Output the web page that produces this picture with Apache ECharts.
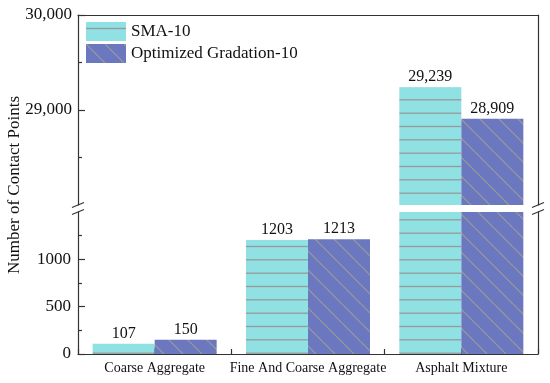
<!DOCTYPE html>
<html>
<head>
<meta charset="utf-8">
<script src="https://cdn.jsdelivr.net/npm/echarts@6/dist/echarts.min.js"></script>
<style>html,body{margin:0;padding:0;background:#fff}#c{width:550px;height:383px}</style>
</head>
<body>
<div id="c"></div>
<script>
var categories = ['Coarse Aggregate', 'Fine And Coarse Aggregate', 'Asphalt Mixture'];
var smaValues = [107, 1203, 29239];
var optValues = [150, 1213, 28909];
var seriesNames = ['SMA-10', 'Optimized Gradation-10'];
var upperTicks = [29000, 30000];
var lowerTicks = [0, 500, 1000];

var UPPER_MIN = 28000, UPPER_MAX = 30000;
var LOWER_MIN = 0, LOWER_MAX = 1500;

var LEFT = 78, RIGHT = 12, TOP = 15, UPPER_H = 190, GAP = 7, LOWER_H = 142;
var FONT = 'Liberation Serif';
var AXIS_COLOR = '#333';

function hPattern(bg, line) {
  var c = document.createElement('canvas');
  c.width = 20; c.height = 40;
  var g = c.getContext('2d');
  g.fillStyle = bg; g.fillRect(0, 0, 20, 40);
  g.strokeStyle = line; g.lineWidth = 1.3;
  [6.5, 19.8, 33.2].forEach(function (y) {
    g.beginPath(); g.moveTo(0, y); g.lineTo(20, y); g.stroke();
  });
  return { image: c, repeat: 'repeat' };
}
function dPattern(bg, line) {
  var s = 19;
  var c = document.createElement('canvas');
  c.width = s; c.height = s;
  var g = c.getContext('2d');
  g.fillStyle = bg; g.fillRect(0, 0, s, s);
  g.strokeStyle = line; g.lineWidth = 1.2;
  [-s, 0, s].forEach(function (k) {
    g.beginPath(); g.moveTo(k, 0); g.lineTo(k + s, s); g.stroke();
  });
  return { image: c, repeat: 'repeat' };
}
var smaFill = hPattern('#8FE1E3', '#999999');
var optFill = dPattern('#6B78BF', '#9a9a9a');

function fmt(v) { return Number(v).toLocaleString('en-US'); }

var labelBase = { show: true, position: 'top', distance: 2, color: '#111', fontFamily: FONT, fontSize: 16 };

function makeSeries(name, values, fill) {
  return [
    {
      name: name, type: 'bar', xAxisIndex: 0, yAxisIndex: 0, data: values,
      barWidth: 62, barGap: '0%', itemStyle: { color: fill },
      label: Object.assign({}, labelBase, {
        formatter: function (p) { return p.value > UPPER_MIN && p.value <= UPPER_MAX ? fmt(p.value) : ''; }
      })
    },
    {
      name: name, type: 'bar', xAxisIndex: 1, yAxisIndex: 2, data: values,
      barWidth: 62, barGap: '0%', itemStyle: { color: fill },
      label: Object.assign({}, labelBase, {
        formatter: function (p) { return p.value <= LOWER_MAX ? String(p.value) : ''; }
      })
    }
  ];
}

var rightX = 550 - RIGHT;
var breakYs = [TOP + UPPER_H, TOP + UPPER_H + GAP];
var breaks = [];
[LEFT, rightX].forEach(function (x) {
  breakYs.forEach(function (y) {
    breaks.push({
      type: 'line', shape: { x1: x - 6, y1: y + 2.5, x2: x + 6, y2: y - 2.5 },
      style: { stroke: AXIS_COLOR, lineWidth: 1.2 }, z: 100
    });
  });
});

var lineStyle = { color: AXIS_COLOR, width: 1.2 };

var option = {
  backgroundColor: '#fff',
  animation: false,
  grid: [
    { left: LEFT, right: RIGHT, top: TOP, height: UPPER_H },
    { left: LEFT, right: RIGHT, top: TOP + UPPER_H + GAP, height: LOWER_H }
  ],
  legend: {
    orient: 'vertical', left: 81, top: 17, itemWidth: 40, itemHeight: 19, itemGap: 3,
    icon: 'rect', data: seriesNames,
    textStyle: { fontFamily: FONT, fontSize: 17, color: '#111' }
  },
  xAxis: [
    { type: 'category', gridIndex: 0, data: categories, position: 'top',
      axisLine: { show: true, lineStyle: lineStyle }, axisTick: { show: false }, axisLabel: { show: false } },
    { type: 'category', gridIndex: 1, data: categories, position: 'bottom',
      axisLine: { show: true, lineStyle: lineStyle },
      axisTick: { show: true, inside: true, length: 5, alignWithLabel: false, lineStyle: lineStyle },
      axisLabel: { interval: 0, fontFamily: FONT, fontSize: 14, color: '#111', margin: 7 } },
    { type: 'category', gridIndex: 1, data: categories, position: 'bottom',
      axisLine: { show: false },
      axisTick: { show: true, inside: true, length: 6, alignWithLabel: true, lineStyle: lineStyle },
      axisLabel: { show: false } }
  ],
  yAxis: [
    { type: 'value', gridIndex: 0, min: UPPER_MIN, max: UPPER_MAX, interval: 1000, position: 'left',
      axisLine: { show: true, lineStyle: lineStyle },
      axisTick: { show: true, inside: true, length: 7, customValues: upperTicks, lineStyle: lineStyle },
      minorTick: { show: true, splitNumber: 2, length: 4, lineStyle: lineStyle },
      axisLabel: { customValues: upperTicks, formatter: function (v) { return fmt(v); },
        fontFamily: FONT, fontSize: 17, color: '#111', margin: 6 },
      splitLine: { show: false } },
    { type: 'value', gridIndex: 0, min: UPPER_MIN, max: UPPER_MAX, position: 'right',
      axisLine: { show: true, lineStyle: lineStyle }, axisTick: { show: false }, axisLabel: { show: false },
      splitLine: { show: false } },
    { type: 'value', gridIndex: 1, min: LOWER_MIN, max: LOWER_MAX, interval: 500, position: 'left',
      axisLine: { show: true, lineStyle: lineStyle },
      axisTick: { show: true, inside: true, length: 7, customValues: lowerTicks, lineStyle: lineStyle },
      minorTick: { show: true, splitNumber: 2, length: 4, lineStyle: lineStyle },
      axisLabel: { customValues: lowerTicks, formatter: function (v) { return String(v); },
        fontFamily: FONT, fontSize: 17, color: '#111', margin: 7 },
      splitLine: { show: false } },
    { type: 'value', gridIndex: 1, min: LOWER_MIN, max: LOWER_MAX, position: 'right',
      axisLine: { show: true, lineStyle: lineStyle }, axisTick: { show: false }, axisLabel: { show: false },
      splitLine: { show: false } }
  ],
  series: makeSeries(seriesNames[0], smaValues, smaFill).concat(makeSeries(seriesNames[1], optValues, optFill)),
  graphic: breaks.concat([
    { type: 'text', x: 15, y: 185, rotation: Math.PI / 2,
      style: { text: 'Number of Contact Points', fontFamily: FONT, fontSize: 17, fill: '#111',
        align: 'center', verticalAlign: 'middle' } }
  ])
};

var chart = echarts.init(document.getElementById('c'), null, { renderer: 'canvas' });
chart.setOption(option);
</script>
</body>
</html>
